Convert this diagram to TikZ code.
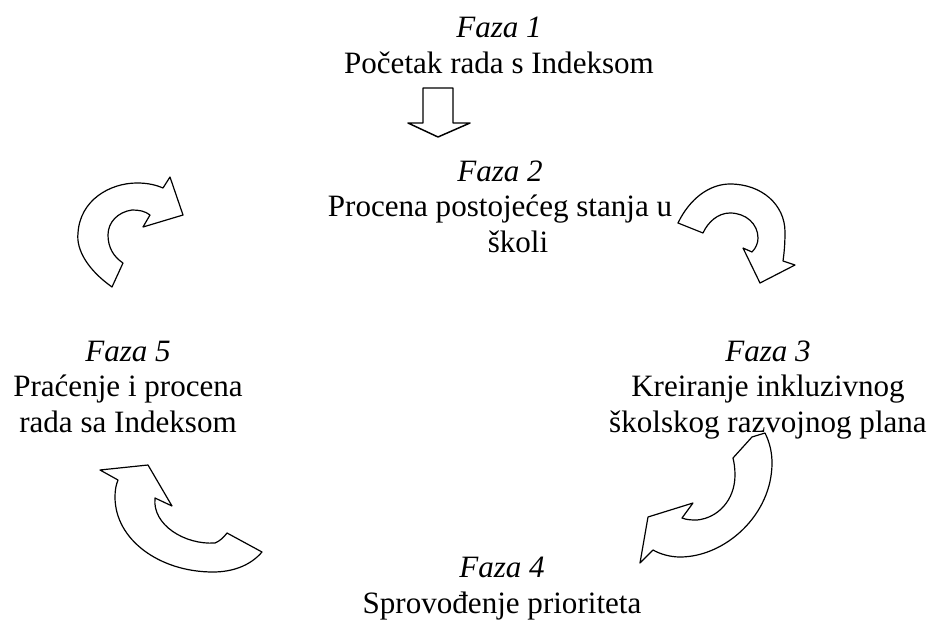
\documentclass[tikz,border=0pt]{standalone}
\usepackage{fontspec}
\setmainfont{Liberation Serif}
\usepackage{tikz}

\begin{document}
\begin{tikzpicture}[x=0.75pt,y=-0.75pt,
        phase/.style={align=center,inner sep=0pt,anchor=base,font=\fontsize{23.3}{26.3}\selectfont},
        blockarrow/.style={draw=black,fill=white,line width=0.9pt,line join=round}]
        \useasboundingbox (0,0) rectangle (933,621);
        % phases (placed at the baseline of their last line)
        \node[phase] (F1) at (499,73) {\textit{Faza 1}\\Početak rada s Indeksom};
        \node[phase] (F2) at (500,252) {\textit{Faza 2}\\Procena postojećeg stanja u\\\hspace*{27pt}školi};
        \node[phase] (F3) at (768,432) {\textit{Faza 3}\\Kreiranje inkluzivnog\\školskog razvojnog plana};
        \node[phase] (F4) at (502,613) {\textit{Faza 4}\\Sprovođenje prioriteta};
        \node[phase] (F5) at (128,432) {\textit{Faza 5}\\Praćenje i procena\\rada sa Indeksom};
        % straight arrow from phase 1 to phase 2
        \draw[blockarrow,line width=1.1pt] (423,88) -- (453,88) -- (453,123) -- (470,123) -- (438,137) -- (408,123) -- (423,123) -- cycle;
        % curved arrow, top right
        \draw[blockarrow] (678,223) .. controls (690,198) and (710,184) .. (730,184)
            .. controls (762,184) and (785,205) .. (785,232)
            .. controls (785,245) and (784,254) .. (783,261) -- (795,265) -- (760,283) -- (743,248) -- (752,252)
            .. controls (756,248) and (758,243) .. (758,238)
            .. controls (758,224) and (746,213) .. (730,213)
            .. controls (718,213) and (708,222) .. (703,233) -- cycle;
        % curved arrow, bottom right
        \draw[blockarrow] (765,433) .. controls (770,443) and (772,453) .. (772,463)
            .. controls (772,515) and (725,557) .. (680,557)
            .. controls (670,557) and (660,554) .. (653,550) -- (640,563) -- (648,517) -- (693,503) -- (682,518)
            .. controls (687,520) and (692,520) .. (697,520)
            .. controls (718,518) and (735,500) .. (735,475)
            .. controls (735,468) and (734,462) .. (733,458) -- (752,437) -- cycle;
        % curved arrow, bottom left
        \draw[blockarrow] (262,552) .. controls (250,566) and (232,572) .. (213,572)
            .. controls (160,572) and (115,540) .. (115,497)
            .. controls (115,490) and (116,485) .. (118,480) -- (100,470) -- (148,465) -- (172,506) -- (155,498)
            .. controls (152,525) and (185,545) .. (215,543)
            .. controls (220,541) and (224,537) .. (227,533) -- cycle;
        % curved arrow, top left
        \draw[blockarrow] (112,287) .. controls (88,270) and (76,250) .. (78,233)
            .. controls (80,200) and (110,183) .. (137,183)
            .. controls (148,183) and (156,185) .. (163,188) -- (170,177) -- (183,215) -- (143,227) -- (150,215)
            .. controls (145,211) and (139,210) .. (132,210)
            .. controls (118,212) and (108,222) .. (108,235)
            .. controls (108,248) and (114,257) .. (123,263) -- cycle;
    \end{tikzpicture}
\end{document}
